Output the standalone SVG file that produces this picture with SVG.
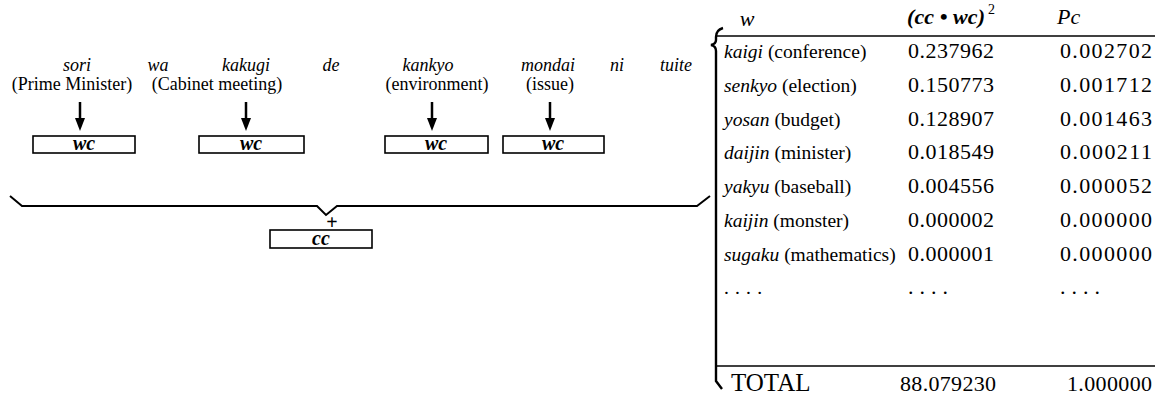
<svg xmlns="http://www.w3.org/2000/svg" width="1165" height="414" viewBox="0 0 1165 414">
<defs>
<style>
text{font-family:"Liberation Serif","Times New Roman",serif;fill:#000}
.w{font-size:18px;font-style:italic}
.g{font-size:18px}
.b{font-size:20px;font-style:italic;font-weight:bold}
.t{font-size:19.5px}
.n{font-size:22px}
.i{font-style:italic}
.box{fill:#fff;stroke:#000;stroke-width:1.6}
.ln{fill:none;stroke:#000;stroke-width:2}
.br{fill:none;stroke:#000;stroke-width:2.4}
.ar{stroke:#000;stroke-width:2.5}
.hd{fill:#000}
</style>
</defs>
<rect width="1165" height="414" fill="#fff"/>

<g id="words">
<text class="w" x="77" y="71" text-anchor="middle">sori</text>
<text class="w" x="158" y="71" text-anchor="middle">wa</text>
<text class="w" x="246" y="71" text-anchor="middle">kakugi</text>
<text class="w" x="331" y="71" text-anchor="middle">de</text>
<text class="w" x="428" y="71" text-anchor="middle">kankyo</text>
<text class="w" x="548" y="71" text-anchor="middle">mondai</text>
<text class="w" x="617" y="71" text-anchor="middle">ni</text>
<text class="w" x="676" y="71" text-anchor="middle">tuite</text>
<text class="g" x="72" y="90" text-anchor="middle">(Prime Minister)</text>
<text class="g" x="217" y="90" text-anchor="middle">(Cabinet meeting)</text>
<text class="g" x="437" y="90" text-anchor="middle">(environment)</text>
<text class="g" x="550" y="90" text-anchor="middle">(issue)</text>
</g>

<g id="wc1"><rect class="box" x="33" y="136" width="102" height="17"/><text class="b" x="84" y="150" text-anchor="middle">wc</text></g>
<g id="wc2"><rect class="box" x="199" y="136" width="105" height="17"/><text class="b" x="251" y="150" text-anchor="middle">wc</text></g>
<g id="wc3"><rect class="box" x="385" y="136" width="103" height="17"/><text class="b" x="436" y="150" text-anchor="middle">wc</text></g>
<g id="wc4"><rect class="box" x="503" y="136" width="101" height="17"/><text class="b" x="553" y="150" text-anchor="middle">wc</text></g>
<g id="cc"><rect class="box" x="270" y="230" width="102" height="18"/><text class="b" x="321" y="245" text-anchor="middle">cc</text></g>

<g id="connectors">
<line class="ar" x1="80" y1="102" x2="80" y2="119"/><path class="hd" d="M75,118 L85,118 L80,131 Z"/>
<line class="ar" x1="246" y1="102" x2="246" y2="119"/><path class="hd" d="M241,118 L251,118 L246,131 Z"/>
<line class="ar" x1="432" y1="102" x2="432" y2="119"/><path class="hd" d="M427,118 L437,118 L432,131 Z"/>
<line class="ar" x1="550" y1="102" x2="550" y2="119"/><path class="hd" d="M545,118 L555,118 L550,131 Z"/>
<path class="ln" d="M10,196 L22,206 L317,206 L326,215 L337,206 L697,206 L710,196"/>
<text x="332" y="229" text-anchor="middle" font-size="20" font-weight="bold">+</text>
</g>

<g id="table">
<path class="br" d="M723,28 Q716,30 716,37 L716,40 Q716,44 711,45 Q716,46 716,51 L716,381 L722,389"/>
<text class="i" x="747" y="26" text-anchor="middle" font-size="22">w</text>
<text x="907" y="24" font-size="22" font-weight="bold" font-style="italic" textLength="78" lengthAdjust="spacing">(cc • wc)</text>
<text x="988" y="14" font-size="14">2</text>
<text x="1057" y="24" font-size="22" font-style="italic">Pc</text>
<line x1="717" y1="36" x2="1155" y2="36" stroke="#000" stroke-width="1.6"/>
<text class="t" x="724" y="58"><tspan class="i">kaigi</tspan> (conference)</text>
<text class="t" x="724" y="92"><tspan class="i">senkyo</tspan> (election)</text>
<text class="t" x="724" y="126"><tspan class="i">yosan</tspan> (budget)</text>
<text class="t" x="724" y="159"><tspan class="i">daijin</tspan> (minister)</text>
<text class="t" x="724" y="193"><tspan class="i">yakyu</tspan> (baseball)</text>
<text class="t" x="724" y="227"><tspan class="i">kaijin</tspan> (monster)</text>
<text class="t" x="724" y="261"><tspan class="i">sugaku</tspan> (mathematics)</text>
<text class="t" x="724" y="294" textLength="38" lengthAdjust="spacing">....</text>
<g class="n">
<text x="908" y="58" textLength="86" lengthAdjust="spacing">0.237962</text>
<text x="908" y="92" textLength="86" lengthAdjust="spacing">0.150773</text>
<text x="908" y="126" textLength="86" lengthAdjust="spacing">0.128907</text>
<text x="908" y="159" textLength="86" lengthAdjust="spacing">0.018549</text>
<text x="908" y="193" textLength="86" lengthAdjust="spacing">0.004556</text>
<text x="908" y="227" textLength="86" lengthAdjust="spacing">0.000002</text>
<text x="908" y="261" textLength="86" lengthAdjust="spacing">0.000001</text>
<text x="908" y="294" textLength="40" lengthAdjust="spacing">....</text>
<text x="1060" y="58" textLength="92" lengthAdjust="spacing">0.002702</text>
<text x="1060" y="92" textLength="92" lengthAdjust="spacing">0.001712</text>
<text x="1060" y="126" textLength="92" lengthAdjust="spacing">0.001463</text>
<text x="1060" y="159" textLength="92" lengthAdjust="spacing">0.000211</text>
<text x="1060" y="193" textLength="92" lengthAdjust="spacing">0.000052</text>
<text x="1060" y="227" textLength="92" lengthAdjust="spacing">0.000000</text>
<text x="1060" y="261" textLength="92" lengthAdjust="spacing">0.000000</text>
<text x="1060" y="294" textLength="40" lengthAdjust="spacing">....</text>
<text x="900" y="391" textLength="96" lengthAdjust="spacing">88.079230</text>
<text x="1067" y="391" textLength="85" lengthAdjust="spacing">1.000000</text>
</g>
<line x1="717" y1="366" x2="1155" y2="366" stroke="#000" stroke-width="1.6"/>
<text x="731" y="391" font-size="25">TOTAL</text>
</g>
</svg>
